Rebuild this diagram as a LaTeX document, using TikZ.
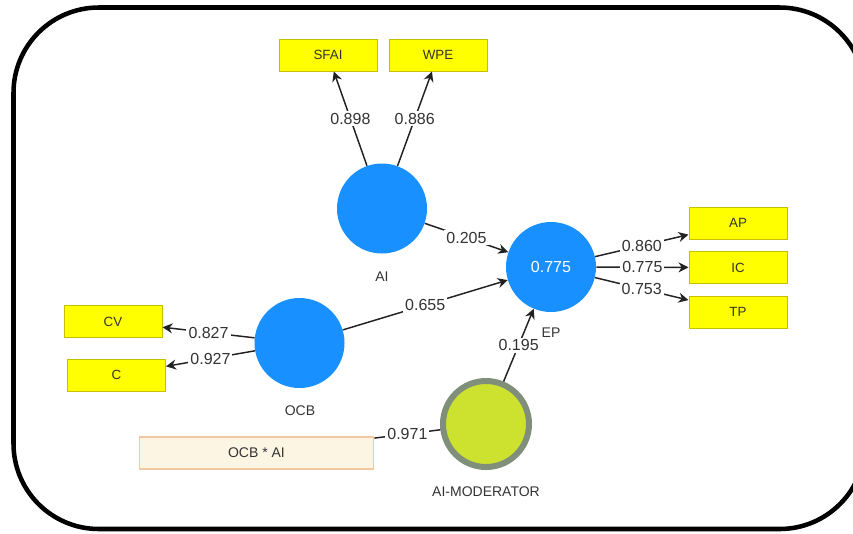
\documentclass[tikz,border=0pt]{standalone}
\usepackage{fontspec}
\setmainfont{Liberation Sans}
\usetikzlibrary{arrows.meta}
\definecolor{lvblue}{RGB}{24,144,255}
\definecolor{indyel}{RGB}{255,255,0}
\definecolor{indedge}{RGB}{200,190,0}
\definecolor{modfill}{RGB}{205,226,46}
\definecolor{modring}{RGB}{128,143,122}
\definecolor{intfill}{RGB}{253,245,228}
\definecolor{intedge}{RGB}{242,201,160}
\definecolor{txt}{RGB}{51,51,51}
\definecolor{linec}{RGB}{34,34,34}
\tikzset{
  lv/.style={circle, fill=lvblue, minimum size=67.5pt, inner sep=0pt},
  modnode/.style={circle, fill=modfill, draw=modring, line width=4.5pt, minimum size=64.5pt, inner sep=0pt},
  ind/.style={rectangle, fill=indyel, draw=indedge, line width=0.75pt, minimum width=73.5pt, minimum height=24pt, inner sep=0pt, font=\fontsize{10}{12}\selectfont, text=txt},
  intbox/.style={rectangle, fill=intfill, draw=intedge, line width=0.9pt, minimum width=176pt, minimum height=24pt, inner sep=0pt, font=\fontsize{10.5}{12}\selectfont, text=txt},
  nlabel/.style={font=\fontsize{10.5}{12}\selectfont, text=txt, inner sep=0pt},
  wt/.style={fill=white, inner sep=1.5pt, font=\fontsize{12}{14}\selectfont, text=txt},
  link/.style={draw=linec, line width=1.1pt, -{Stealth[length=7.5pt,width=7.5pt]}},
  plainlink/.style={draw=linec, line width=1.1pt}
}
\begin{document}
\begin{tikzpicture}[x=0.75pt,y=-0.75pt]
\useasboundingbox (0,0) rectangle (853,533);
\draw[line width=3.4pt, rounded corners=64pt] (13.5,7.5) rectangle (865,529);

% latent variables
\node[lv] (AI) at (382,208.5) {};
\node[lv] (EP) at (551,267) {};
\node[lv] (OCB) at (299.5,343) {};
\node[modnode] (MOD) at (486,424) {};
\node[font=\fontsize{12}{14}\selectfont, text=white] (EPval) at (551,267) {0.775};

% latent names
\node[nlabel] (AIname) at (382,277) {AI};
\node[nlabel] (EPname) at (551,333) {EP};
\node[nlabel] (OCBname) at (300,411) {OCB};
\node[nlabel] (MODname) at (486,492) {AI-MODERATOR};

% indicators
\node[ind] (SFAI) at (328,55) {SFAI};
\node[ind] (WPE) at (438,55) {WPE};
\node[ind] (AP) at (738,223) {AP};
\node[ind] (IC) at (738,267.5) {IC};
\node[ind] (TP) at (738,312) {TP};
\node[ind] (CV) at (113,321.5) {CV};
\node[ind] (C) at (116.5,375) {C};
\node[intbox] (INT) at (256.5,453) {OCB * AI};

% outer loadings
\draw[link] (AI) -- node[wt] {0.898} (SFAI);
\draw[link] (AI) -- node[wt] {0.886} (WPE);
\draw[link] (EP) -- node[wt] {0.860} (AP);
\draw[link] (EP) -- node[wt] {0.775} (IC);
\draw[link] (EP) -- node[wt] {0.753} (TP);
\draw[link] (OCB) -- node[wt] {0.827} (CV);
\draw[link] (OCB) -- node[wt] {0.927} (C);
\draw[plainlink] (INT) -- node[wt] {0.971} (MOD);

% path coefficients
\draw[link] (AI) -- node[wt] {0.205} (EP);
\draw[link] (OCB) -- node[wt] {0.655} (EP);
\draw[link] (MOD) -- node[wt] {0.195} (EP);
\end{tikzpicture}
\end{document}
